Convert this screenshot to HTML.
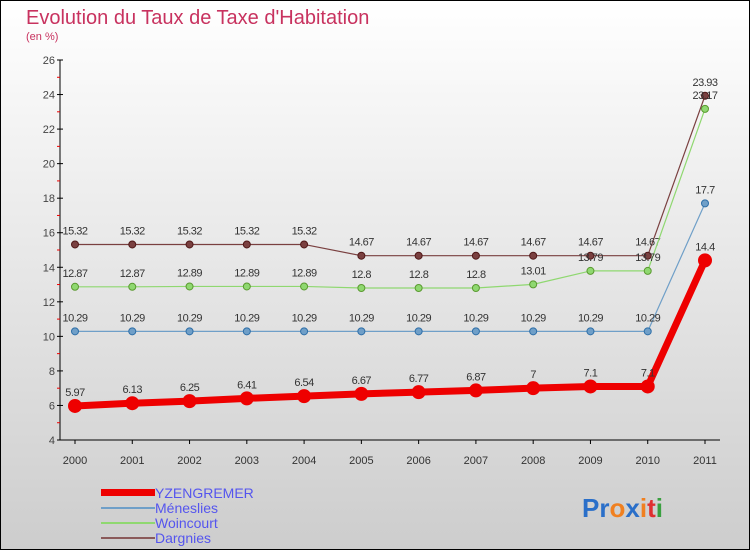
<!DOCTYPE html>
<html><head><meta charset="utf-8"><style>
body{margin:0}
svg{display:block;font-family:"Liberation Sans",sans-serif}
</style></head><body>
<svg id="c" width="750" height="550" xmlns="http://www.w3.org/2000/svg">
<defs><linearGradient id="bg" x1="0" y1="0" x2="0" y2="1"><stop offset="0" stop-color="#ffffff"/><stop offset="1" stop-color="#cdcdcd"/></linearGradient></defs>
<rect x="0.5" y="0.5" width="749" height="549" fill="url(#bg)" stroke="#000"/>
<text x="26" y="24" font-size="20" fill="#c8325f">Evolution du Taux de Taxe d'Habitation</text>
<text x="26" y="40" font-size="11" fill="#c8325f">(en %)</text>
<g id="axes"></g><g id="series"></g>
<g>
<rect x="101" y="489" width="54" height="7" fill="#ee0000"/>
<text x="155" y="498" font-size="14" fill="#5555ee">YZENGREMER</text>
<rect x="101" y="507" width="54" height="2" fill="#6f9fc8"/>
<text x="155" y="513" font-size="14" fill="#5555ee">Méneslies</text>
<rect x="101" y="522" width="54" height="2" fill="#8fd870"/>
<text x="155" y="528" font-size="14" fill="#5555ee">Woincourt</text>
<rect x="101" y="537" width="54" height="2" fill="#8a5a5a"/>
<text x="155" y="543" font-size="14" fill="#5555ee">Dargnies</text>
</g>
<text x="582" y="517" font-size="26" font-weight="bold"><tspan fill="#2a6fc9">Pr</tspan><tspan fill="#f08020">o</tspan><tspan fill="#2a6fc9">x</tspan><tspan fill="#f08020">i</tspan><tspan fill="#e03030">t</tspan><tspan fill="#3aa040">i</tspan></text>
</svg>
<script>
const years=[2000,2001,2002,2003,2004,2005,2006,2007,2008,2009,2010,2011];
const yTicks=[4,6,8,10,12,14,16,18,20,22,24,26];
const yzengremer=[5.97,6.13,6.25,6.41,6.54,6.67,6.77,6.87,7,7.1,7.1,14.4];
const meneslies=[10.29,10.29,10.29,10.29,10.29,10.29,10.29,10.29,10.29,10.29,10.29,17.7];
const woincourt=[12.87,12.87,12.89,12.89,12.89,12.8,12.8,12.8,13.01,13.79,13.79,23.17];
const dargnies=[15.32,15.32,15.32,15.32,15.32,14.67,14.67,14.67,14.67,14.67,14.67,23.93];
const NS="http://www.w3.org/2000/svg";
const X=i=>75+i*(630/11);
const Y=v=>440-(v-4)*(380/22);
function mk(t,a,p){const e=document.createElementNS(NS,t);for(const k in a)e.setAttribute(k,a[k]);p.appendChild(e);return e;}
const ax=document.getElementById('axes');
let l=mk('line',{x1:60,y1:60,x2:60,y2:440,stroke:'#000'},ax);


l=mk('line',{x1:60,y1:440,x2:720,y2:440,stroke:'#000'},ax);


yTicks.forEach(v=>{
 mk('line',{x1:57,x2:63,y1:Y(v),y2:Y(v),stroke:'#000'},ax);
 if(v<26)mk('line',{x1:57,x2:60,y1:Y(v+1),y2:Y(v+1),stroke:'#e00'},ax);
 const t=mk('text',{x:55,y:Y(v)+4,'font-size':11,'text-anchor':'end',fill:'#444'},ax);t.textContent=v;
 
 
});
years.forEach((y,i)=>{
 mk('line',{x1:X(i),x2:X(i),y1:440,y2:444,stroke:'#000'},ax);
 const t=mk('text',{x:X(i),y:464,'font-size':11,'text-anchor':'middle',fill:'#333'},ax);t.textContent=y;
 
 
});
const sg=document.getElementById('series');
function draw(vals,col,w,r,name,dark){
 const g=mk('g',{},sg);
 
 
 mk('polyline',{points:vals.map((v,i)=>X(i)+','+Y(v)).join(' '),fill:'none',stroke:col,'stroke-width':w,'stroke-linejoin':'round'},g);
 vals.forEach((v,i)=>{
  const c=mk('circle',{cx:X(i),cy:Y(v),r:r,fill:col,stroke:dark,'stroke-width':1},g);
  
  
  const t=mk('text',{x:X(i),y:Y(v)-10,'font-size':11,'text-anchor':'middle',fill:'#333','letter-spacing':'-0.5'},g);
  t.textContent=v;
  
  
 });
}
draw(dargnies,'#7a4040',1.2,3.5,'dargnies','#501818');
draw(woincourt,'#8fd870',1.2,3.5,'woincourt','#5a9a30');
draw(meneslies,'#6f9fc8',1.2,3.5,'meneslies','#2f6fa8');
draw(yzengremer,'#ee0000',7,6.5,'yzengremer','#ee0000');
</script>
</body></html>
